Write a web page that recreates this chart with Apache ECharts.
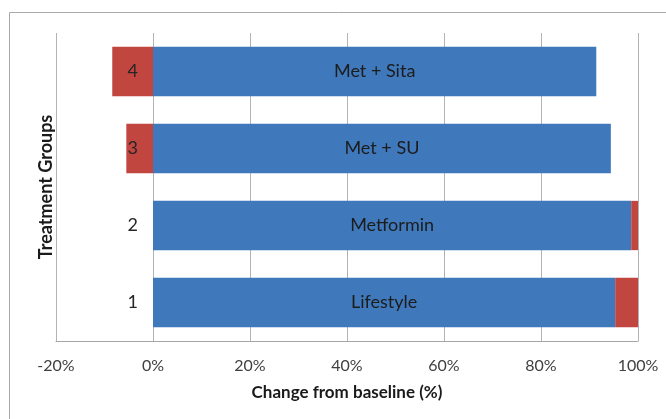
<!DOCTYPE html>
<html>
<head>
<meta charset="utf-8">
<script src="https://cdn.jsdelivr.net/npm/echarts@6/dist/echarts.min.js"></script>
<style>
  html, body { margin: 0; padding: 0; background: #ffffff; }
  #chart { width: 666px; height: 419px; }
</style>
</head>
<body>
<div id="chart"></div>
<script>
// Treatment groups, bottom to top
const groups = ['1', '2', '3', '4'];
const groupNames = ['Lifestyle', 'Metformin', 'Met + SU', 'Met + Sita'];
// Change from baseline (%), main segment and remainder segment
const mainChange = [95.3, 98.6, 94.4, 91.4];
const restChange = [4.7, 1.4, -5.5, -8.4];
const xTicks = [-20, 0, 20, 40, 60, 80, 100];

const FONT = 'Lato, "Open Sans", sans-serif';

const chart = echarts.init(document.getElementById('chart'), null, { renderer: 'canvas' });

const option = {
  animation: false,
  backgroundColor: '#ffffff',
  graphic: [{
    type: 'rect',
    shape: { x: 9.5, y: 12.5, width: 720, height: 520 },
    style: { fill: 'none', stroke: '#a9a9a9', lineWidth: 1 },
    silent: true,
    z: -10
  }],
  grid: { left: 56, right: 28, top: 33, bottom: 78, containLabel: false, outerBoundsMode: 'none' },
  xAxis: {
    type: 'value',
    min: xTicks[0],
    max: xTicks[xTicks.length - 1],
    interval: 20,
    name: 'Change from baseline (%)',
    nameLocation: 'middle',
    nameGap: 43,
    nameTextStyle: { fontFamily: FONT, fontWeight: 'bold', fontSize: 17, color: '#1a1a1a' },
    axisLine: { show: true, lineStyle: { color: '#a6a6a6', width: 1 } },
    axisTick: { show: false },
    axisLabel: {
      margin: 17,
      fontFamily: FONT, fontSize: 16, color: '#404040',
      formatter: v => v + '%'
    },
    splitLine: { show: true, lineStyle: { color: '#b3b3b3', width: 1 } },
    z: 0
  },
  yAxis: {
    type: 'category',
    data: groups,
    name: 'Treatment Groups',
    nameLocation: 'middle',
    nameGap: 98,
    nameTextStyle: { fontFamily: FONT, fontWeight: 'bold', fontSize: 18, color: '#1a1a1a' },
    offset: 0,
    axisLine: { show: false, onZero: false },
    axisTick: { show: false },
    axisLabel: { margin: 15, fontFamily: FONT, fontSize: 18, color: '#262626' },
    splitLine: { show: false },
    z: 10
  },
  series: [
    {
      type: 'bar',
      stack: 'change',
      data: mainChange,
      barCategoryGap: '36%',
      itemStyle: { color: '#3f78bb' },
      label: {
        show: true,
        position: 'inside',
        fontFamily: FONT, fontSize: 18, color: '#1c1c1c',
        formatter: p => groupNames[p.dataIndex]
      },
      z: 2
    },
    {
      type: 'bar',
      stack: 'change',
      data: restChange,
      barCategoryGap: '36%',
      itemStyle: { color: '#c0463f' },
      z: 2
    }
  ]
};

chart.setOption(option);

// Place the group axis on the zero line of the value axis
const zeroX = chart.convertToPixel({ xAxisIndex: 0 }, 0);
const leftX = chart.convertToPixel({ xAxisIndex: 0 }, xTicks[0]);
chart.setOption({ yAxis: { offset: -(zeroX - leftX) } });
</script>
</body>
</html>
